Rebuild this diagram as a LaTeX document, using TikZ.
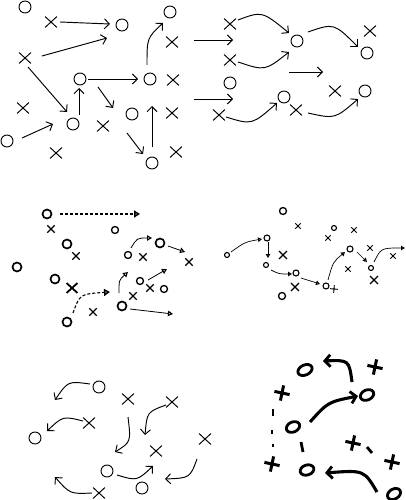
\documentclass[tikz,border=0pt]{standalone}
\usetikzlibrary{arrows.meta,shapes.misc}
\begin{document}
\begin{tikzpicture}[x=1pt,y=-1pt,
  o1/.style={circle,draw,line width=0.95pt,minimum size=12pt,inner sep=0pt},
  x1/.style={cross out,draw,line width=0.95pt,minimum width=11pt,minimum height=10pt,inner sep=0pt},
  a1/.style={line width=0.95pt,-{Straight Barb[length=5pt,width=10pt]}},
  o3/.style={circle,draw,line width=1.7pt,minimum size=9pt,inner sep=0pt},
  o3s/.style={circle,draw,line width=1.3pt,minimum size=7pt,inner sep=0pt},
  x3/.style={cross out,draw,line width=1.3pt,minimum size=6pt,inner sep=0pt},
  x3b/.style={cross out,draw,line width=1.8pt,minimum width=9pt,minimum height=8pt,inner sep=0pt},
  a3/.style={line width=0.8pt,-{Triangle[open,length=5pt,width=5.5pt,line width=1.1pt]}},
  a3d/.style={line width=1.3pt,dash pattern=on 3pt off 2pt,-{Triangle[open,length=6pt,width=7pt,line width=1.6pt]}},
  o4/.style={circle,draw,line width=1.1pt,minimum size=6pt,inner sep=0pt},
  x4/.style={cross out,draw,line width=0.9pt,minimum size=4.5pt,inner sep=0pt},
  x4b/.style={cross out,draw,line width=1.4pt,minimum size=6.5pt,inner sep=0pt},
  a4/.style={line width=0.7pt,-{Triangle[open,length=4pt,width=4.5pt,line width=1.1pt]}},
  o6/.style={line width=2.8pt},
  p6/.style={cross out,draw,line width=3pt,minimum size=8pt,inner sep=0pt,rotate=33},
  d6/.style={line width=2.8pt},
  a6/.style={line width=3.1pt,-{Straight Barb[length=5.5pt,width=12pt,line width=2.8pt]}}
]
\useasboundingbox (0,0) rectangle (406,500);
\fill[white] (0,0) rectangle (406,500);

% ---------- panel 1 ----------
\node[o1] (ao1) at (25,7) {};
\node[o1] (ao2) at (122,25) {};
\node[o1] (ao3) at (80,79) {};
\node[o1] (ao4) at (150,79) {};
\node[o1] (ao5) at (170,12) {};
\node[o1] (ao6) at (73,124) {};
\node[o1] (ao7) at (7,141) {};
\node[o1] (ao8) at (132,114) {};
\node[o1] (ao9) at (152,163) {};
\node[x1] (ax1) at (51,22) {};
\node[x1] (ax2) at (25,58) {};
\node[x1] (ax3) at (173,80) {};
\node[x1] (ax4) at (172,42) {};
\node[x1] (ax5) at (23,108) {};
\node[x1] (ax6) at (56,153) {};
\node[x1] (ax7) at (103,126) {};
\node[x1] (ax8) at (172,113) {};
\node[x1] (ax9) at (176,152) {};
\path (60,22) coordinate (q1a) (110,24) coordinate (q1b)
      (42,56) coordinate (q2a) (107,38) coordinate (q2b)
      (28,67) coordinate (q3a) (67,112) coordinate (q3b)
      (88,79) coordinate (q4a) (138,79) coordinate (q4b)
      (147,65) coordinate (q5a) (163,23) coordinate (q5b)
      (79,115) coordinate (q6a) (79,88) coordinate (q6b)
      (22,138) coordinate (q7a) (53,124) coordinate (q7b)
      (98,87) coordinate (q8a) (113,108) coordinate (q8b)
      (127,133) coordinate (q9a) (143,154) coordinate (q9b)
      (152,147) coordinate (q10a) (152,106) coordinate (q10b);
\draw[a1] (q1a) -- (q1b);
\draw[a1] (q2a) -- (q2b);
\draw[a1] (q3a) -- (q3b);
\draw[a1] (q4a) -- (q4b);
\draw[a1] (q5a) .. controls (147,38) .. (q5b);
\draw[a1] (q6a) -- (q6b);
\draw[a1] (q7a) -- (q7b);
\draw[a1] (q8a) -- (q8b);
\draw[a1] (q9a) -- (q9b);
\draw[a1] (q10a) -- (q10b);

% ---------- panel 2 ----------
\node[x1] (bx1) at (230,24) {};
\node[x1] (bx2) at (230,60) {};
\node[x1] (bx3) at (370,31) {};
\node[x1] (bx4) at (219,115) {};
\node[x1] (bx5) at (296,110) {};
\node[x1] (bx6) at (335,91) {};
\node[o1] (bo1) at (297,41) {};
\node[o1] (bo2) at (367,53) {};
\node[o1] (bo3) at (230,83) {};
\node[o1] (bo4) at (284,97) {};
\node[o1] (bo5) at (365,91) {};
\path (194,40) coordinate (r1a) (233,40) coordinate (r1b)
      (289,72) coordinate (r2a) (323,72) coordinate (r2b)
      (194,99) coordinate (r3a) (233,99) coordinate (r3b)
      (238,20) coordinate (r4a) (289,33) coordinate (r4b)
      (238,62) coordinate (r5a) (289,52) coordinate (r5b)
      (308,32) coordinate (r6a) (358,47) coordinate (r6b)
      (226,117) coordinate (r7a) (277,103) coordinate (r7b)
      (308,113) coordinate (r8a) (358,99) coordinate (r8b);
\draw[a1] (r1a) -- (r1b);
\draw[a1] (r2a) -- (r2b);
\draw[a1] (r3a) -- (r3b);
\draw[a1] (r4a) .. controls (262,11) .. (r4b);
\draw[a1] (r5a) .. controls (265,71) .. (r5b);
\draw[a1] (r6a) .. controls (334,23) .. (r6b);
\draw[a1] (r7a) .. controls (252,125) .. (r7b);
\draw[a1] (r8a) .. controls (335,119) .. (r8b);

% ---------- panel 3 ----------
\node[o3] (co1) at (47,214) {};
\node[o3] (co2) at (67,244) {};
\node[o3] (co3) at (17,267) {};
\node[o3] (co4) at (55,279) {};
\node[o3] (co5) at (67,322) {};
\node[o3] (co6) at (122,306) {};
\node[o3] (co7) at (160,243) {};
\node[o3s] (co8) at (115,230) {};
\node[o3s] (co9) at (128,255) {};
\node[o3s] (co10) at (140,281) {};
\node[o3s] (co11) at (164,289) {};
\node[x3] (cx1) at (51,229) {};
\node[x3] (cx2) at (76,256) {};
\node[x3] (cx3) at (143,257) {};
\node[x3] (cx4) at (189,262) {};
\node[x3] (cx5) at (150,288) {};
\node[x3] (cx6) at (133,296) {};
\node[x3] (cx7) at (93,312) {};
\node[x3b] (cx8) at (72,288) {};
\path (60,214) coordinate (s1a) (140,214) coordinate (s1b)
      (131,248) coordinate (s2a) (152,238) coordinate (s2b)
      (168,246) coordinate (s3a) (185,252) coordinate (s3b)
      (119,293) coordinate (s4a) (128,272) coordinate (s4b)
      (148,280) coordinate (s5a) (167,269) coordinate (s5b)
      (73,313) coordinate (s6a) (110,292) coordinate (s6b)
      (130,309) coordinate (s7a) (173,314) coordinate (s7b);
\draw[a3d] (s1a) -- (s1b);
\draw[a3] (s2a) .. controls (137,238) .. (s2b);
\draw[a3] (s3a) -- (s3b);
\draw[a3] (s4a) .. controls (119,280) .. (s4b);
\draw[a3] (s5a) -- (s5b);
\draw[a3d,line width=1.1pt] (s6a) .. controls (80,294) .. (s6b);
\draw[a3] (s7a) -- (s7b);

% ---------- panel 4 ----------
\node[o4,line width=1.3pt,minimum size=7pt] (do1) at (283,211) {};
\node[o4,minimum size=5pt] (do2) at (227,255) {};
\node[o4] (do3) at (267,238) {};
\node[o4,minimum size=5pt] (do4) at (266,265) {};
\node[o4] (do5) at (296,273) {};
\node[o4] (do6) at (326,286) {};
\node[o4,line width=1.3pt,minimum size=7pt] (do7) at (282,296) {};
\node[o4] (do8) at (350,249) {};
\node[o4,minimum size=5pt] (do9) at (371,268) {};
\node[o4,minimum size=5pt] (do10) at (334,228) {};
\node[x4] (dx1) at (298,226) {};
\node[x4b] (dx2) at (283,255) {};
\node[x4,rotate=40] (dx3) at (334,289) {};
\node[x4b] (dx4) at (295,287) {};
\node[x4b] (dx5) at (374,280) {};
\node[x4] (dx6) at (393,256) {};
\node[x4] (dx7) at (370,248) {};
\node[x4] (dx8) at (348,269) {};
\node[x4] (dx9) at (328,238) {};
\node[x4] (dx10) at (354,230) {};
\path (231,252) coordinate (t1a) (262,239) coordinate (t1b)
      (268,242) coordinate (t2a) (268,258) coordinate (t2b)
      (271,270) coordinate (t3a) (292,274) coordinate (t3b)
      (301,278) coordinate (t4a) (320,284) coordinate (t4b)
      (328,280) coordinate (t5a) (345,252) coordinate (t5b)
      (357,252) coordinate (t6a) (367,262) coordinate (t6b)
      (374,262) coordinate (t7a) (405,248) coordinate (t7b);
\draw[a4] (t1a) .. controls (245,242) .. (t1b);
\draw[a4] (t2a) -- (t2b);
\draw[a4] (t3a) .. controls (279,274) .. (t3b);
\draw[a4] (t4a) -- (t4b);
\draw[a4] (t5a) .. controls (333,262) .. (t5b);
\draw[a4] (t6a) -- (t6b);
\draw[a4] (t7a) .. controls (381,248) .. (t7b);

% ---------- panel 5 ----------
\node[o1] (eo1) at (99,387) {};
\node[o1] (eo2) at (35,438) {};
\node[o1] (eo3) at (107,471) {};
\node[o1] (eo4) at (142,488) {};
\node[x1] (ex1) at (128,399) {};
\node[x1] (ex2) at (172,402) {};
\node[x1] (ex3) at (89,423) {};
\node[x1] (ex4) at (156,451) {};
\node[x1] (ex5) at (205,439) {};
\node[x1] (ex6) at (99,493) {};
\path (90,384) coordinate (u1a) (55,400) coordinate (u1b)
      (166,405) coordinate (u2a) (145,435) coordinate (u2b)
      (83,421) coordinate (u3a) (47,431) coordinate (u3b)
      (128,417) coordinate (u4a) (115,452) coordinate (u4b)
      (117,475) coordinate (u5a) (153,466) coordinate (u5b)
      (197,459) coordinate (u6a) (165,479) coordinate (u6b)
      (92,493) coordinate (u7a) (55,477) coordinate (u7b);
\draw[a1] (u1a) .. controls (68,381) .. (u1b);
\draw[a1] (u2a) .. controls (147,412) .. (u2b);
\draw[a1] (u3a) .. controls (63,416) .. (u3b);
\draw[a1] (u4a) .. controls (131,442) .. (u4b);
\draw[a1] (u5a) .. controls (137,481) .. (u5b);
\draw[a1] (u6a) .. controls (190,478) .. (u6b);
\draw[a1] (u7a) .. controls (70,494) .. (u7b);

% ---------- panel 6 ----------
\coordinate (fo1) at (305,370);
\coordinate (fo2) at (367,395);
\coordinate (fo3) at (293,427);
\coordinate (fo4) at (307,470);
\coordinate (fo5) at (394,494);
\draw[o6,rotate around={25:(fo1)}] (fo1) ellipse [x radius=7.5pt,y radius=5pt];
\draw[o6,rotate around={25:(fo2)}] (fo2) ellipse [x radius=7pt,y radius=5pt];
\draw[o6,rotate around={25:(fo3)}] (fo3) ellipse [x radius=7pt,y radius=5pt];
\draw[o6,rotate around={18:(fo4)}] (fo4) ellipse [x radius=7pt,y radius=5pt];
\draw[o6,rotate around={30:(fo5)}] (fo5) ellipse [x radius=7pt,y radius=5pt];
\node[p6] (fp1) at (375,367) {};
\node[p6] (fp2) at (282,393) {};
\node[p6] (fp3) at (272,464) {};
\node[p6] (fp4) at (353,443) {};
\node[p6] (fp5) at (392,462) {};
\path (273,409) coordinate (v1a) (273,416) coordinate (v1b)
      (272,430) coordinate (v2a) (272,434) coordinate (v2b)
      (273,444) coordinate (v3a) (273,447) coordinate (v3b)
      (301,442) coordinate (v4a) (303,452) coordinate (v4b)
      (367,447) coordinate (v5a) (372,453) coordinate (v5b);
\draw[d6] (v1a) -- (v1b);
\draw[d6] (v2a) -- (v2b);
\draw[d6,line width=2pt] (v3a) -- (v3b);
\draw[d6] (v4a) -- (v4b);
\draw[d6] (v5a) -- (v5b);
\path (352,382) coordinate (w1a) (323,361) coordinate (w1b)
      (310,422) coordinate (w2a) (358,396) coordinate (w2b)
      (377,492) coordinate (w3a) (325,473) coordinate (w3b);
\draw[a6] (w1a) .. controls (349,360) .. (w1b);
\draw[a6] (w2a) .. controls (328,402) .. (w2b);
\draw[a6] (w3a) .. controls (364,470) .. (w3b);
\end{tikzpicture}
\end{document}
